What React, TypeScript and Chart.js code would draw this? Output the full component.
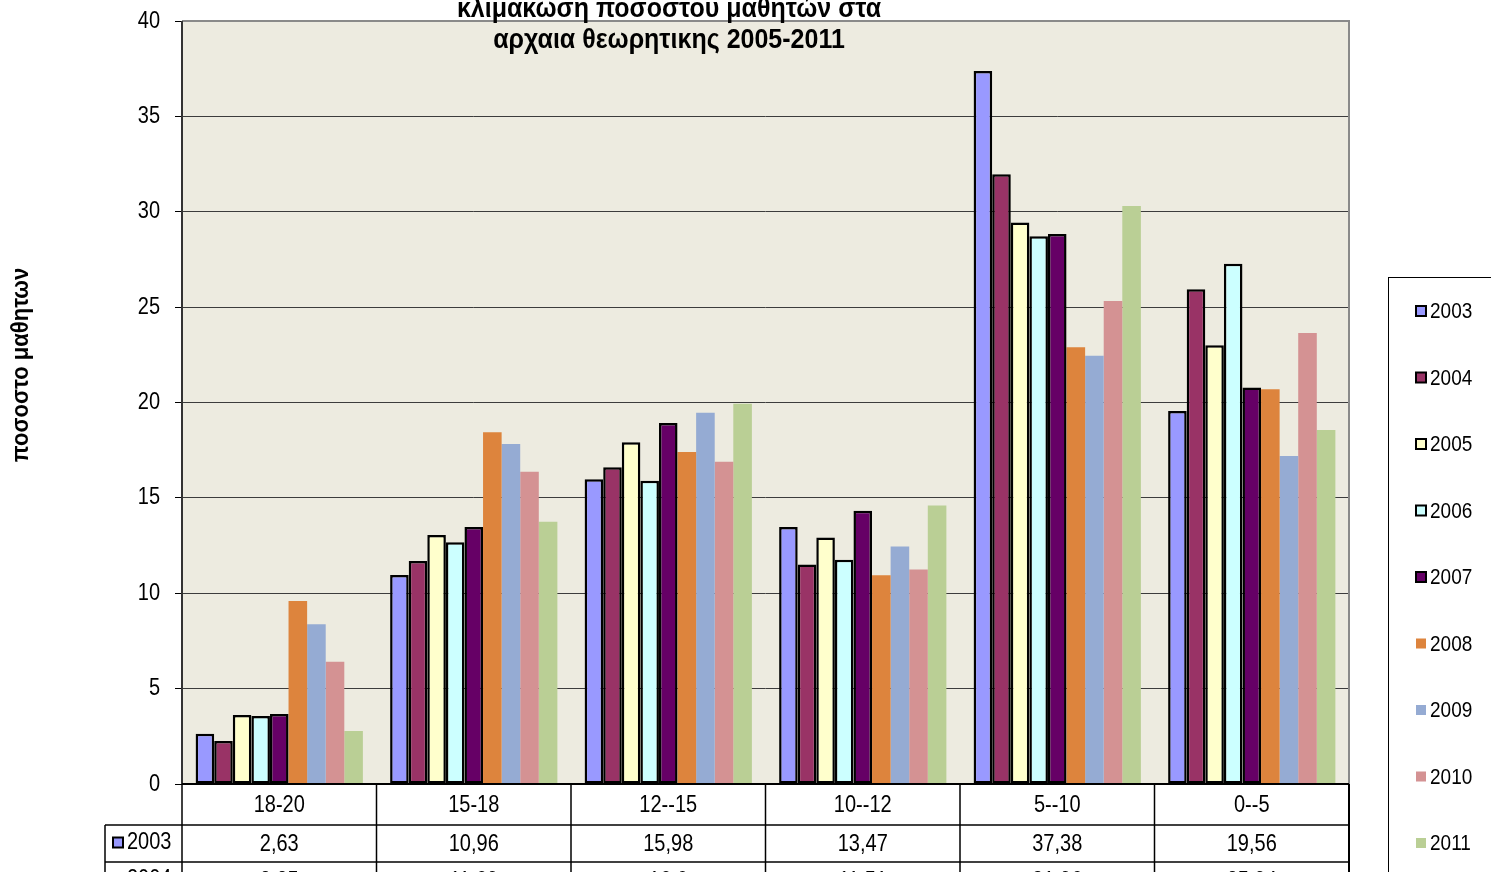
import React, { useEffect, useRef } from "react";
import { Chart, registerables } from "chart.js";

Chart.register(...registerables);

const categories = ["18-20", "15-18", "12--15", "10--12", "5--10", "0--5"];
const years = ["2003", "2004", "2005", "2006", "2007", "2008", "2009", "2010", "2011"];
const v2003 = [2.63, 10.96, 15.98, 13.47, 37.38, 19.56];
const v2004 = [2.25, 11.69, 16.6, 11.51, 31.96, 25.94];
const v2005 = [3.62, 13.05, 17.91, 12.92, 29.43, 23.0];
const v2006 = [3.57, 12.67, 15.9, 11.76, 28.71, 27.28];
const v2007 = [3.67, 13.47, 18.92, 14.33, 28.84, 20.79];
const v2008 = [9.59, 18.44, 17.4, 10.94, 22.9, 20.69];
const v2009 = [8.37, 17.82, 19.46, 12.45, 22.45, 17.2];
const v2010 = [6.41, 16.37, 16.9, 11.24, 25.32, 23.64];
const v2011 = [2.78, 13.75, 19.93, 14.6, 30.3, 18.56];
const seriesValues = [v2003, v2004, v2005, v2006, v2007, v2008, v2009, v2010, v2011];
const colors = ["#9999FF", "#993366", "#FFFFCC", "#CCFFFF", "#660066", "#DD843D", "#95ABD3", "#D49293", "#BACF95"];
const outlined = [true, true, true, true, true, false, false, false, false];
const yTicks = [0, 5, 10, 15, 20, 25, 30, 35, 40];
const titleLines = ["κλιμακωση ποσοστου μαθητών στα", "αρχαια θεωρητικης 2005-2011"];
const yTitle = "ποσοστο μαθητων";

const FONT = '"Liberation Sans", Arial, sans-serif';
const SY = 1.18;

function fmt(v: number): string {
  return String(Math.round(v * 100) / 100).replace(".", ",");
}

function txt(ctx: CanvasRenderingContext2D, s: string, x: number, y: number, font: string, align: CanvasTextAlign, sy = SY) {
  ctx.save();
  ctx.translate(x, y);
  ctx.scale(1, sy);
  ctx.font = font;
  ctx.textAlign = align;
  ctx.textBaseline = "middle";
  ctx.fillStyle = "#000";
  ctx.fillText(s, 0, 0);
  ctx.restore();
}

const decorPlugin = {
  id: "decor",
  beforeDraw(chart: any) {
    const { ctx, chartArea: a } = chart;
    ctx.save();
    ctx.fillStyle = "#ffffff";
    ctx.fillRect(0, 0, chart.width, chart.height);
    ctx.fillStyle = "#EDEBE0";
    ctx.fillRect(a.left, a.top, a.right - a.left, a.bottom - a.top);
    ctx.restore();
  },
  afterDraw(chart: any) {
    const { ctx, chartArea: a } = chart;
    const xs = chart.scales.x;
    const ys = chart.scales.y;
    ctx.save();
    // plot borders
    ctx.strokeStyle = "#8a8a8a";
    ctx.lineWidth = 2;
    ctx.beginPath();
    ctx.moveTo(a.left, a.top);
    ctx.lineTo(a.right, a.top);
    ctx.lineTo(a.right, a.bottom);
    ctx.stroke();
    ctx.strokeStyle = "#333";
    ctx.beginPath();
    ctx.moveTo(a.left, a.top);
    ctx.lineTo(a.left, a.bottom);
    ctx.stroke();
    ctx.strokeStyle = "#000";
    ctx.beginPath();
    ctx.moveTo(a.left, a.bottom);
    ctx.lineTo(a.right, a.bottom);
    ctx.stroke();

    // y tick labels
    for (const v of yTicks) {
      txt(ctx, String(v), 160, ys.getPixelForValue(v), "20px " + FONT, "right");
    }

    // title
    txt(ctx, titleLines[0], 669, 9, "bold 25px " + FONT, "center", 1.1);
    txt(ctx, titleLines[1], 669, 40, "bold 25px " + FONT, "center", 1.1);

    // y title
    ctx.save();
    ctx.translate(22, 365);
    ctx.rotate(-Math.PI / 2);
    txt(ctx, yTitle, 0, 0, "bold 22px " + FONT, "center", 1.05);
    ctx.restore();

    // legend
    ctx.strokeStyle = "#000";
    ctx.lineWidth = 1;
    ctx.strokeRect(1388.5, 277.5, 200, 700);
    for (let i = 0; i < years.length; i++) {
      const cy = 311 + i * 66.5;
      ctx.fillStyle = colors[i];
      ctx.fillRect(1416, cy - 5, 10, 10);
      if (outlined[i]) {
        ctx.strokeStyle = "#000";
        ctx.lineWidth = 2;
        ctx.strokeRect(1416, cy - 5, 10, 10);
      }
      txt(ctx, years[i], 1430, cy + 1, "19px " + FONT, "left");
    }

    // data table
    const n = categories.length;
    const cw = (a.right - a.left) / n;
    const headH = 41;
    const rowH = 37;
    const tableTop = a.bottom;
    const left = 105;
    ctx.strokeStyle = "#000";
    ctx.lineWidth = 1.5;
    for (let i = 0; i <= n; i++) {
      const x = a.left + i * cw;
      ctx.lineWidth = i === n ? 2 : 1.5;
      ctx.beginPath();
      ctx.moveTo(x, tableTop);
      ctx.lineTo(x, chart.height + 400);
      ctx.stroke();
    }
    ctx.lineWidth = 1.5;
    ctx.beginPath();
    ctx.moveTo(left, tableTop + headH);
    ctx.lineTo(left, chart.height + 400);
    ctx.stroke();
    for (let r = 0; r <= years.length; r++) {
      const y = tableTop + headH + r * rowH;
      ctx.beginPath();
      ctx.moveTo(left, y);
      ctx.lineTo(a.right, y);
      ctx.stroke();
    }
    for (let i = 0; i < n; i++) {
      txt(ctx, categories[i], xs.getPixelForValue(i), tableTop + 21, "20px " + FONT, "center");
    }
    for (let r = 0; r < years.length; r++) {
      const cy = tableTop + headH + r * rowH + rowH / 2;
      ctx.fillStyle = colors[r];
      ctx.fillRect(113, cy - 6, 10, 10);
      if (outlined[r]) {
        ctx.strokeStyle = "#000";
        ctx.lineWidth = 2;
        ctx.strokeRect(113, cy - 6, 10, 10);
      }
      txt(ctx, years[r], 127, cy - 1, "20px " + FONT, "left");
      for (let i = 0; i < n; i++) {
        txt(ctx, fmt(seriesValues[r][i]), xs.getPixelForValue(i), cy + 1, "20px " + FONT, "center");
      }
    }
    ctx.restore();
  },
};

export default function App() {
  const ref = useRef<HTMLCanvasElement | null>(null);
  useEffect(() => {
    if (!ref.current) return;
    const chart = new Chart(ref.current, {
      type: "bar",
      data: {
        labels: categories,
        datasets: years.map((y, i) => ({
          label: y,
          data: seriesValues[i],
          backgroundColor: colors[i],
          borderColor: outlined[i] ? "#000" : colors[i],
          borderWidth: outlined[i] ? 2.5 : 0,
          borderSkipped: false,
          categoryPercentage: 0.86,
          barPercentage: 1,
        })),
      },
      options: {
        animation: false,
        responsive: false,
        devicePixelRatio: 1,
        layout: { padding: { left: 0, top: 21, right: 142, bottom: 88 } },
        plugins: { legend: { display: false }, title: { display: false }, tooltip: { enabled: false } },
        scales: {
          x: { display: false },
          y: {
            min: 0,
            max: 40,
            afterFit: (s: any) => { s.width = 182; },
            afterBuildTicks: (s: any) => { s.ticks = yTicks.map((v) => ({ value: v })); },
            ticks: { display: false },
            grid: { color: "#3c3c3c", lineWidth: 1, tickLength: 7, tickColor: "#000" },
            border: { display: false },
          },
        },
      },
      plugins: [decorPlugin],
    });
    return () => chart.destroy();
  }, []);
  return (
    <div style={{ position: "fixed", left: 0, top: 0, width: 1491, height: 872, overflow: "hidden", background: "#fff" }}>
      <canvas ref={ref} width={1491} height={872} style={{ display: "block" }} />
    </div>
  );
}
